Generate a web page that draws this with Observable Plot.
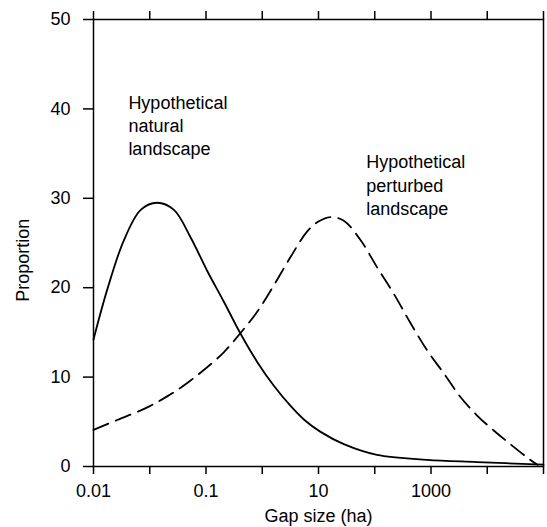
<!DOCTYPE html>
<html><head><meta charset="utf-8">
<script src="https://cdn.jsdelivr.net/npm/d3@7"></script>
<script src="https://cdn.jsdelivr.net/npm/@observablehq/plot@0.6"></script>
<style>body{margin:0;background:#fff} svg{display:block}</style>
</head><body><div id="chart"></div>
<script>
// x positions are in tick-step units along the (logarithmic) gap-size axis
const tickPositions = [0, 1, 2, 3, 4, 5, 6, 7, 8];
const tickLabels = ["0.01", "", "0.1", "", "10", "", "1000", "", ""];
const yTicks = [0, 10, 20, 30, 40, 50];

const naturalX = [0, 0.24, 0.54, 0.84, 1.13, 1.43, 1.72, 2.02, 2.32, 2.61, 2.91, 3.21, 3.5, 3.75, 4.03, 4.45, 5.04, 5.93, 6.82, 8.0];
const naturalY = [14.2, 19.7, 25.3, 28.7, 29.5, 28.7, 25.7, 21.9, 18.4, 14.9, 11.7, 9.0, 6.8, 5.2, 3.9, 2.5, 1.3, 0.75, 0.5, 0.2];

const perturbedX = [0, 0.42, 0.92, 1.19, 1.43, 1.72, 2.02, 2.32, 2.61, 2.91, 3.21, 3.5, 3.8, 4.0, 4.21, 4.45, 4.75, 5.04, 5.34, 5.64, 5.93, 6.23, 6.52, 6.82, 7.12, 7.41, 7.71, 7.89];
const perturbedY = [4.1, 5.2, 6.5, 7.4, 8.3, 9.6, 11.1, 12.8, 14.9, 17.3, 20.3, 23.4, 26.3, 27.4, 27.9, 27.5, 25.3, 22.3, 19.3, 16.0, 13.0, 10.4, 7.8, 5.7, 4.0, 2.5, 1.0, 0.2];

const labelTexts = ["Hypothetical\nnatural\nlandscape", "Hypothetical\nperturbed\nlandscape"];
const labelX = [0.62, 4.85];
const labelY = [41.9, 35.2];

const natural = naturalX.map((x, i) => ({x, y: naturalY[i]}));
const perturbed = perturbedX.map((x, i) => ({x, y: perturbedY[i]}));
const labels = labelTexts.map((t, i) => ({t, x: labelX[i], y: labelY[i]}));

const chart = Plot.plot({
  width: 547, height: 527,
  marginLeft: 93, marginRight: 4, marginTop: 19, marginBottom: 61,
  style: {fontFamily: "'Liberation Sans', Arial, Helvetica, sans-serif", fontSize: "18px", color: "#000", background: "#fff"},
  x: {type: "linear", domain: [0, 8]},
  y: {domain: [0, 50]},
  marks: [
    Plot.frame({stroke: "#000", strokeWidth: 1.5}),
    Plot.axisX({anchor: "bottom", ticks: tickPositions, tickSize: 8, tickPadding: 10, strokeWidth: 1.5,
      tickFormat: d => tickLabels[tickPositions.indexOf(d)], label: null}),
    Plot.axisX({anchor: "top", ticks: tickPositions, tickSize: 9, strokeWidth: 1.5, tickFormat: () => "", label: null}),
    Plot.axisY({ticks: yTicks, tickSize: 10, tickPadding: 13, strokeWidth: 1.5, label: null}),
    Plot.text(["Proportion"], {frameAnchor: "left", y: [23.07], dx: -70, rotate: -90, textAnchor: "middle", lineAnchor: "middle", fontSize: 18}),
    Plot.text(["Gap size (ha)"], {frameAnchor: "bottom", dy: 50, textAnchor: "middle", lineAnchor: "middle", fontSize: 18}),
    Plot.line(natural, {x: "x", y: "y", curve: "catmull-rom", stroke: "#000", strokeWidth: 1.8}),
    Plot.line(perturbed, {x: "x", y: "y", curve: "catmull-rom", stroke: "#000", strokeWidth: 1.8, strokeDasharray: "16,8"}),
    Plot.text(labels, {x: "x", y: "y", text: "t", textAnchor: "start", lineAnchor: "top", lineHeight: 1.3, fontSize: 18})
  ]
});
document.getElementById("chart").appendChild(chart);
</script>
</body></html>
